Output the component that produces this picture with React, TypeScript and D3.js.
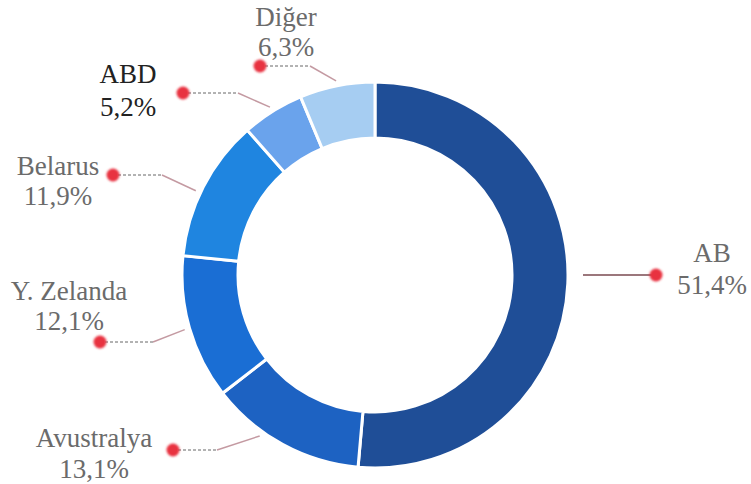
import React from "react";
import * as d3 from "d3";

const categories = ["AB", "Avustralya", "Y. Zelanda", "Belarus", "ABD", "Diğer"];
const shares = [51.4, 13.1, 12.1, 11.9, 5.2, 6.3];
const valueLabels = ["51,4%", "13,1%", "12,1%", "11,9%", "5,2%", "6,3%"];
const sliceColors = ["#1f4e97", "#1d62c2", "#1a6ed4", "#1f85e0", "#6aa3ec", "#a6cdf2"];

// label layout (positions only)
const labelLayout = [
  { dot: [656, 275], elbow: null, shift: 0, text: [712, 262, 294], color: "#6b6b6b" },
  { dot: [173, 450], elbow: 217, shift: 7, text: [94, 447, 478], color: "#6b6b6b" },
  { dot: [100, 342], elbow: 153, shift: 0, text: [69, 300, 330], color: "#6b6b6b" },
  { dot: [113, 175], elbow: 162, shift: -2, text: [58, 175, 205], color: "#6b6b6b" },
  { dot: [183, 93], elbow: 238, shift: 0, text: [128, 83, 116], color: "#222222" },
  { dot: [260, 66], elbow: 310, shift: 0, text: [286, 26, 56], color: "#6b6b6b" },
];

const W = 751;
const H = 484;
const cx = 375;
const cy = 275;
const outerR = 193;
const innerR = 137;
const FONT = "Liberation Serif";

export default function App() {
  const pie = d3.pie<number>().sort(null).value((d) => d);
  const arcs = pie(shares);
  const arcGen = d3.arc<d3.PieArcDatum<number>>().innerRadius(innerR).outerRadius(outerR);

  return (
    <svg
      width={W}
      height={H}
      style={{ position: "absolute", left: 0, top: 0, background: "#fff" }}
    >
      <defs>
        <filter id="soft" x="-50%" y="-50%" width="200%" height="200%">
          <feGaussianBlur stdDeviation="0.8" />
        </filter>
      </defs>
      <g transform={`translate(${cx},${cy})`}>
        {arcs.map((a, i) => (
          <path key={i} d={arcGen(a) || ""} fill={sliceColors[i]} stroke="#ffffff" strokeWidth={3} />
        ))}
      </g>
      {arcs.map((a, i) => {
        const L = labelLayout[i];
        const mid = (a.startAngle + a.endAngle) / 2 + (L.shift * Math.PI) / 180;
        const rEnd = outerR + 5;
        let ex = cx + rEnd * Math.sin(mid);
        let ey = cy - rEnd * Math.cos(mid);
        const [dx, dy] = L.dot;
        if (L.elbow === null) {
          ex = cx + outerR + 15;
          return (
            <g key={i}>
              <line x1={ex} y1={dy} x2={dx} y2={dy} stroke="#7a4a50" strokeWidth={1.3} />
              <circle cx={dx} cy={dy} r={6.5} fill="#e8333f" filter="url(#soft)" />
            </g>
          );
        }
        return (
          <g key={i}>
            <line x1={dx} y1={dy} x2={L.elbow} y2={dy} stroke="#666" strokeWidth={1} strokeDasharray="3,2" />
            <line x1={L.elbow} y1={dy} x2={ex} y2={ey} stroke="#c49aa2" strokeWidth={1.5} />
            <circle cx={dx} cy={dy} r={6.5} fill="#e8333f" filter="url(#soft)" />
          </g>
        );
      })}
      {categories.map((c, i) => {
        const L = labelLayout[i];
        return (
          <g key={c} fill={L.color} textAnchor="middle" fontSize={27} fontFamily={FONT}>
            <text x={L.text[0]} y={L.text[1]}>{c}</text>
            <text x={L.text[0]} y={L.text[2]}>{valueLabels[i]}</text>
          </g>
        );
      })}
    </svg>
  );
}
